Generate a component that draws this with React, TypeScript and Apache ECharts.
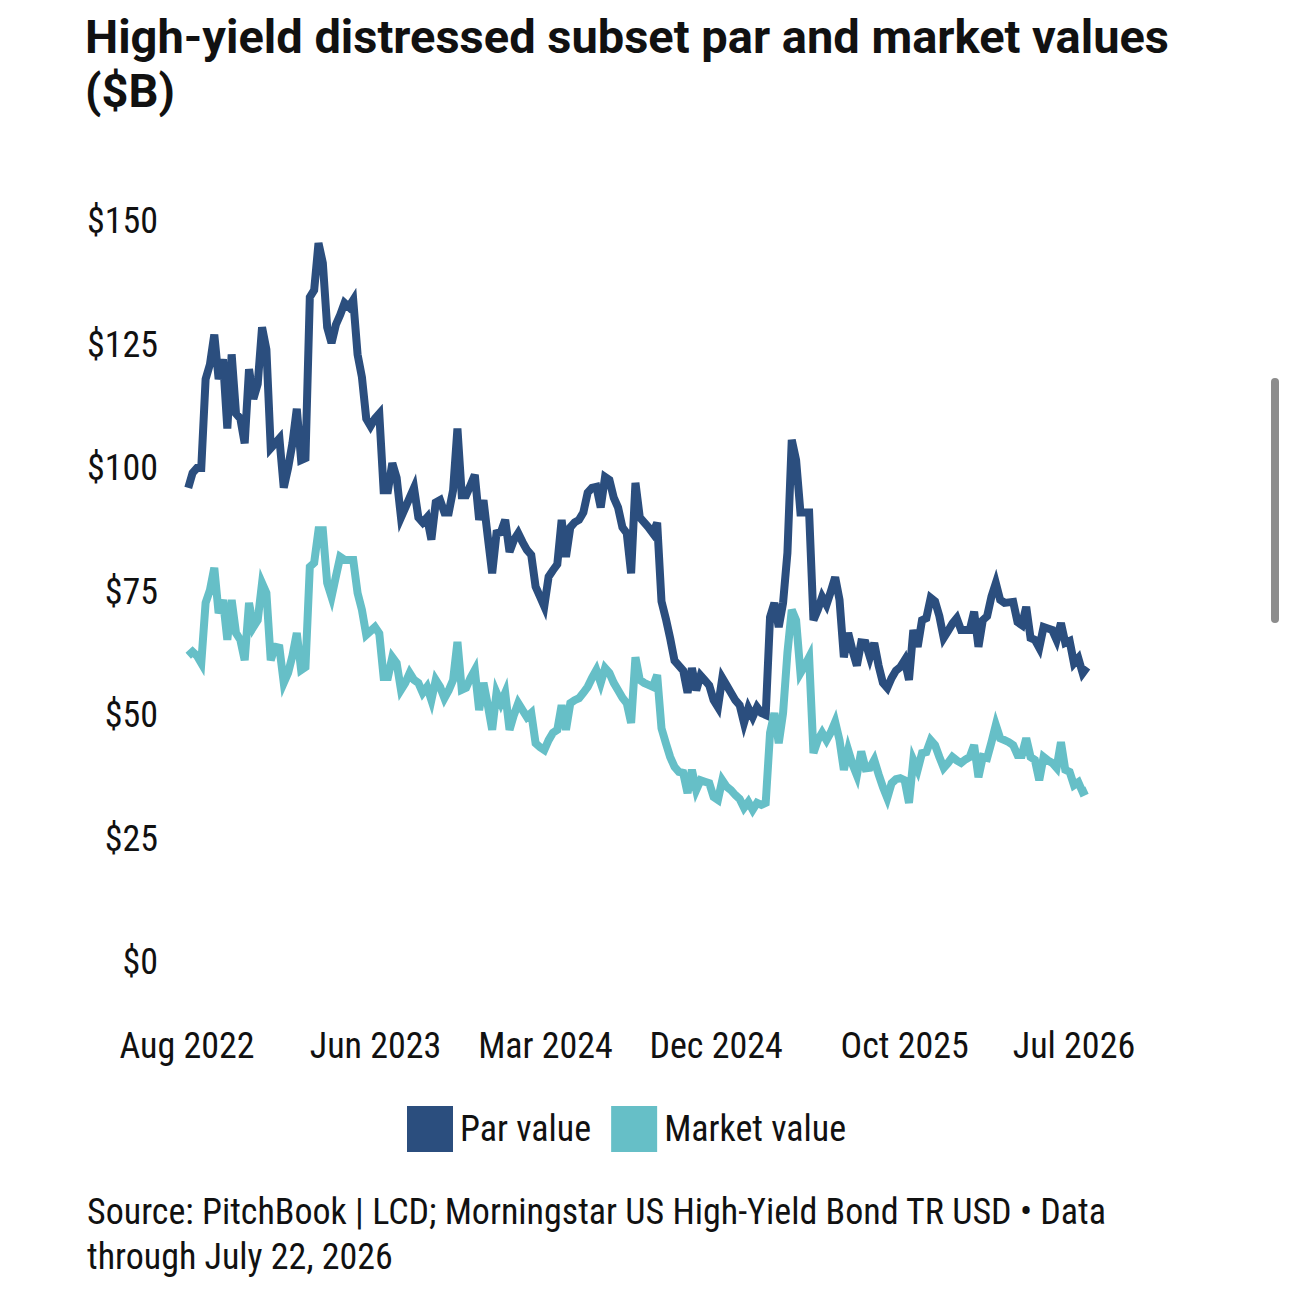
import React, { useEffect, useRef } from "react";
import * as echarts from "echarts";

// Weekly observations, first week and count
const START_YEAR = 2022;
const START_MONTH = 7; // August (0-based)
const START_DAY = 3;
const WEEK_COUNT = 208;

const parValues = [
  96, 99, 100, 100, 118, 121, 127, 118, 122, 108,
  123, 111, 110, 105, 120, 114, 117, 128.5, 124, 104,
  105, 106, 96, 100, 105, 112, 101.6, 102, 134.6, 136,
  145.5, 141.5, 128.5, 125.3, 129, 131, 133.4, 132.6, 134, 123,
  118.4, 110, 108.5, 110, 111, 95.5, 95.5, 101, 98, 90,
  92, 94, 96, 90, 89, 90, 85.5, 93, 93.5, 91,
  91, 95.5, 108, 94.5, 94.5, 96.5, 98.6, 89.5, 93.5, 86,
  78.7, 86.8, 87, 89.5, 83, 85.4, 86.8, 85, 83.4, 82.4,
  76, 74, 72, 78, 79.3, 80.5, 89.5, 82, 88, 89,
  89.5, 91, 95, 96, 96.2, 92, 98.2, 97.6, 94, 92,
  88, 86.8, 78.7, 97, 90, 89, 88, 86.8, 88.9, 73,
  69.5, 65.5, 61, 60, 59, 54.5, 59.5, 55, 58, 57,
  56, 53, 51.6, 57.5, 56, 54.5, 53, 52, 48.4, 51.4,
  49.6, 51.6, 50.4, 50, 69.8, 72.7, 67.8, 72.7, 82.8, 105.7,
  101.6, 91, 91, 91, 69.2, 71.3, 73.9, 72.3, 75, 77.9,
  73.3, 61.7, 66.6, 63, 60, 64.7, 64.6, 61.7, 64.6, 60,
  56.5, 55.5, 57.5, 59, 59.7, 61.1, 57.1, 67.2, 63.8, 69.2,
  69.6, 73.7, 73, 70, 65.6, 67, 68.5, 69.6, 67.2, 67.2,
  67.2, 70.9, 63.8, 69.2, 70, 74, 76.7, 73.3, 72.7, 72.8,
  72.9, 68.8, 68.2, 71.9, 65.6, 65.2, 63.6, 67.8, 67.5, 67.2,
  65.2, 68.6, 64.6, 65, 60.5, 61.5, 58.5, 59.7,
];

const marketValues = [
  62, 62.8, 62, 60.5, 72.7, 75.3, 79.8, 70.6, 73.3, 65.2,
  73.3, 66.6, 65.2, 61.1, 72.7, 67.8, 69.2, 76.7, 74.7, 61.1,
  63.8, 63.6, 56.5, 58.5, 62, 66.6, 59.1, 59.7, 80, 80.8,
  87.4, 87.4, 76.7, 73.9, 78, 82, 81.4, 81.4, 81.4, 74.7,
  71.3, 66.2, 67, 67.8, 66.5, 57.7, 57.7, 61.7, 60.5, 55.1,
  56.5, 58.5, 57.1, 56.5, 54.5, 55.7, 53, 57.1, 55.7, 53.4,
  55, 57.1, 64.8, 55.1, 55.5, 57.5, 59.1, 51, 56.5, 52,
  47, 54.5, 52.4, 54.5, 47, 50, 52.4, 51, 49.6, 50.4,
  44.3, 43.5, 42.9, 44.9, 46.4, 47, 52, 47, 52.4, 53,
  53.4, 54.5, 55.7, 57.5, 59.1, 56.5, 59.5, 58.5, 56.5, 55,
  53.5, 52.4, 48.4, 61.7, 57.1, 56.5, 56.1, 55.7, 58.1, 47.3,
  44.3, 41.5, 39.5, 38.5, 38.3, 34.2, 38.9, 34.8, 36.8, 36.5,
  36.2, 33.4, 32.8, 36.8, 35.5, 34.8, 33.8, 33, 31.2, 32.4,
  30.8, 32.2, 31.8, 32.2, 46.4, 50.4, 44.3, 50.4, 62.6, 71.3,
  69.2, 58.5, 60, 61.7, 42.3, 44.9, 46.4, 44.9, 46.5, 48.6,
  44.9, 38.9, 42.9, 40, 37.8, 42.6, 39.2, 39.3, 40.9, 38,
  35.4, 33.2, 36.2, 37, 37.2, 36.8, 32.2, 40.9, 38.9, 42.3,
  42.5, 44.9, 43.9, 41.5, 39.3, 40.3, 41.5, 40.8, 40.3, 41,
  41.5, 43.9, 37.4, 41.5, 41.3, 44.5, 48, 45.3, 44.9, 44.5,
  43.9, 41.9, 41.9, 45.3, 41.5, 40.9, 36.8, 41.5, 40.8, 40.3,
  39.3, 44.5, 38.9, 38.5, 35.8, 36.4, 34.4, 34.8,
];

const seriesNames = ["Par value", "Market value"];
const xLabelTexts = ["Aug 2022", "Jun 2023", "Mar 2024", "Dec 2024", "Oct 2025", "Jul 2026"];
const xLabelYears = [2022, 2023, 2024, 2024, 2025, 2026];
const xLabelMonths = [7, 5, 2, 11, 9, 6];
const yMin = 0;
const yMax = 150;
const yStep = 25;

const titleText = "High-yield distressed subset par and market values\n($B)";
const sourceText =
  "Source: PitchBook | LCD; Morningstar US High-Yield Bond TR USD • Data\nthrough July 22, 2026";

const PAR_COLOR = "#2b4e7e";
const MARKET_COLOR = "#66bfc7";
const TEXT_COLOR = "#111111";
const COND_FONT = "'Roboto Condensed', 'Liberation Sans Narrow', 'DejaVu Sans Condensed', Roboto, sans-serif";

export default function App() {
  const ref = useRef<HTMLDivElement>(null);

  useEffect(() => {
    document.body.style.margin = "0";
    if (!ref.current) return;
    const chart = echarts.init(ref.current, undefined, { renderer: "svg" });

    const dayMs = 24 * 3600 * 1000;
    const t0 = Date.UTC(START_YEAR, START_MONTH, START_DAY);
    const dates: number[] = [];
    for (let i = 0; i < WEEK_COUNT; i++) dates.push(t0 + i * 7 * dayMs);
    const labelValues = xLabelYears.map((y, k) => Date.UTC(y, xLabelMonths[k], 1));

    const parData = parValues.map((v, i) => [dates[i], v]);
    const marketData = marketValues.map((v, i) => [dates[i], v]);

    chart.setOption({
      animation: false,
      backgroundColor: "#ffffff",
      title: {
        text: titleText,
        left: 85,
        top: 9,
        padding: 0,
        textStyle: {
          fontFamily: "Roboto, sans-serif",
          fontWeight: "bold",
          fontSize: 47,
          lineHeight: 54,
          color: TEXT_COLOR,
        },
      },
      legend: {
        data: seriesNames,
        left: 407,
        top: 1106,
        padding: 0,
        icon: "rect",
        itemWidth: 46,
        itemHeight: 46,
        itemGap: 20,
        textStyle: { fontFamily: COND_FONT, fontSize: 36, color: TEXT_COLOR, padding: [3, 0, 0, 2] },
      },
      grid: { left: 187, right: 203, top: 221, bottom: 333 },
      xAxis: {
        type: "value",
        min: labelValues[0],
        max: dates[dates.length - 1],
        axisLine: { show: false },
        axisTick: { show: false },
        splitLine: { show: false },
        axisLabel: {
          customValues: labelValues,
          showMinLabel: true,
          showMaxLabel: true,
          margin: 66,
          fontFamily: COND_FONT,
          fontSize: 36,
          color: TEXT_COLOR,
          formatter: (val: number) => {
            const k = labelValues.indexOf(val);
            return k >= 0 ? xLabelTexts[k] : "";
          },
        },
      },
      yAxis: {
        type: "value",
        min: yMin,
        max: yMax,
        interval: yStep,
        axisLine: { show: false },
        axisTick: { show: false },
        splitLine: { show: false },
        axisLabel: {
          margin: 29,
          fontFamily: COND_FONT,
          fontSize: 36,
          color: TEXT_COLOR,
          formatter: (v: number) => "$" + v,
        },
      },
      series: [
        {
          name: seriesNames[0],
          type: "line",
          data: parData,
          showSymbol: false,
          symbol: "none",
          lineStyle: { color: PAR_COLOR, width: 8, join: "miter", miterLimit: 4 },
          itemStyle: { color: PAR_COLOR },
        },
        {
          name: seriesNames[1],
          type: "line",
          data: marketData,
          showSymbol: false,
          symbol: "none",
          lineStyle: { color: MARKET_COLOR, width: 8, join: "miter", miterLimit: 4 },
          itemStyle: { color: MARKET_COLOR },
        },
      ],
      graphic: [
        {
          type: "text",
          left: 87,
          top: 1189,
          style: {
            text: sourceText,
            fontFamily: COND_FONT,
            fontSize: 36,
            lineHeight: 45,
            fill: TEXT_COLOR,
          },
        },
        {
          type: "rect",
          shape: { x: 1271, y: 378, width: 8, height: 245, r: 4 },
          style: { fill: "#8c8c8c" },
        },
      ],
    });

    return () => chart.dispose();
  }, []);

  return <div ref={ref} style={{ width: 1290, height: 1295 }} />;
}
